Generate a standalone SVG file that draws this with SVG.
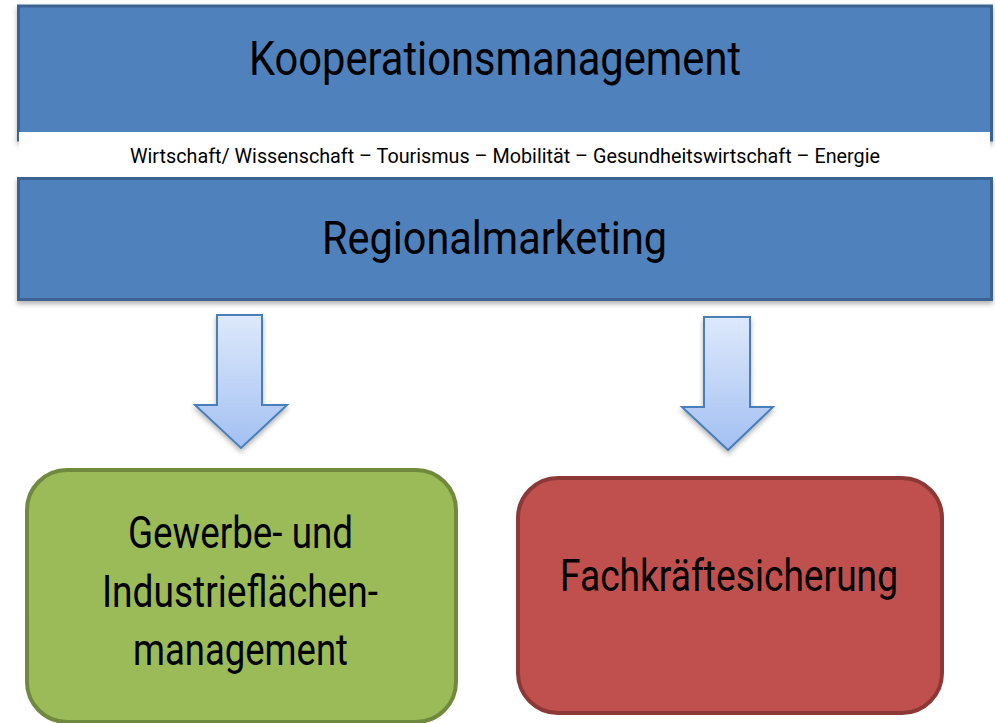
<svg xmlns="http://www.w3.org/2000/svg" width="995" height="723" viewBox="0 0 995 723">
<defs>
<linearGradient id="ag" x1="0" y1="0" x2="0" y2="1">
<stop offset="0" stop-color="#dde9fb"/>
<stop offset="1" stop-color="#a3c0f2"/>
</linearGradient>
<filter id="sh" x="-5%" y="-5%" width="110%" height="115%">
<feDropShadow dx="0" dy="3" stdDeviation="2.5" flood-color="#000" flood-opacity="0.3"/>
</filter>
</defs>
<style>
.t{font-family:Roboto,"Liberation Sans",sans-serif;fill:#000;text-anchor:middle}
.blue{fill:#4f81bd;stroke:#3b6290;stroke-width:3}
.arr{fill:url(#ag);stroke:#4a7ebb;stroke-width:2;stroke-linejoin:miter}
</style>
<rect x="0" y="0" width="995" height="723" fill="#fff"/>
<g id="kooperation">
<rect class="blue" x="18.5" y="6" width="973" height="134" filter="url(#sh)"/>
<text class="t" x="495" y="75" font-size="48" textLength="492" lengthAdjust="spacingAndGlyphs">Kooperationsmanagement</text>
</g>
<g id="regional">
<rect class="blue" x="18.5" y="178.5" width="973" height="121" filter="url(#sh)"/>
<text class="t" x="494.5" y="254" font-size="47" textLength="345" lengthAdjust="spacingAndGlyphs">Regionalmarketing</text>
</g>
<g id="band">
<rect x="19" y="132" width="971" height="45" fill="#fff"/>
<text class="t" x="505" y="163" font-size="20" textLength="750" lengthAdjust="spacingAndGlyphs">Wirtschaft/ Wissenschaft – Tourismus – Mobilität – Gesundheitswirtschaft – Energie</text>
</g>
<g id="connectors">
<path class="arr" filter="url(#sh)" d="M217,315 H262 V405 H287 L241,448 L195,405 H217 Z"/>
<path class="arr" filter="url(#sh)" d="M704,317 H750 V407 H773 L728,450 L682,407 H704 Z"/>
</g>
<g id="gewerbe">
<rect x="27" y="470" width="429" height="252" rx="40" fill="#9bbb59" stroke="#71893f" stroke-width="4"/>
<text class="t" x="240.5" y="548" font-size="44" textLength="225" lengthAdjust="spacingAndGlyphs">Gewerbe- und</text>
<text class="t" x="240" y="607" font-size="44" textLength="276" lengthAdjust="spacingAndGlyphs">Industrieflächen-</text>
<text class="t" x="240.5" y="665" font-size="44" textLength="215" lengthAdjust="spacingAndGlyphs">management</text>
</g>
<g id="fachkraefte">
<rect x="518" y="478" width="424" height="235" rx="40" fill="#c0504d" stroke="#8c3836" stroke-width="4"/>
<text class="t" x="729" y="591" font-size="44" textLength="338" lengthAdjust="spacingAndGlyphs">Fachkräftesicherung</text>
</g>
</svg>
